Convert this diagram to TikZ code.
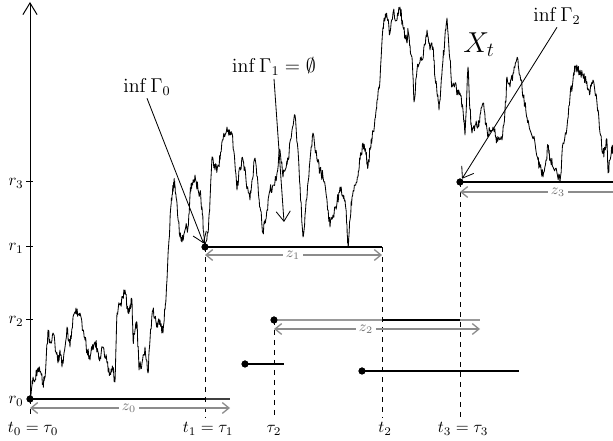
\documentclass[tikz,border=0pt]{standalone}
\usetikzlibrary{arrows.meta}
\tikzset{
  bmline/.style={line width=0.5pt, line join=round},
  lvl/.style={line width=0.9pt},
  lvlgray/.style={line width=0.9pt, draw=black!40},
  seg/.style={line width=0.8pt},
  zarrow/.style={line width=0.8pt, draw=black!45, {Straight Barb[length=4pt,width=6.5pt]}-{Straight Barb[length=4pt,width=6.5pt]}},
  zarrowl/.style={line width=0.8pt, draw=black!45, {Straight Barb[length=4pt,width=6.5pt]}-},
  zlab/.style={fill=white, inner sep=1.5pt, text=black!55, font=\small},
  vdash/.style={dashed, line width=0.6pt},
  callout/.style={line width=0.5pt, -{Straight Barb[length=6pt,width=8.5pt]}},
  dot/.style={circle, fill=black, inner sep=0pt, minimum size=4.2pt},
  tlab/.style={anchor=base, inner sep=0pt},
  rlab/.style={anchor=mid east, inner sep=1pt},
  tick/.style={line width=0.6pt},
  axis/.style={line width=0.6pt, -{Straight Barb[length=7pt,width=8.5pt]}},
  inflab/.style={font=\large, inner sep=1.5pt},
}
\begin{document}
\begin{tikzpicture}[x=0.6pt,y=-0.6pt]
\useasboundingbox (0,0) rectangle (613,441);

% ---- Brownian-like path ----
\def\bmlist{}
\pgfmathsetseed{4242}
\foreach \xb/\yb [remember=\xb as \xa (initially 30), remember=\yb as \ya (initially 399)] in {
32/385, 33/377, 35/380, 38/368, 40/372, 43/383, 45/378, 48/330, 50/343, 53/333, 56/352, 58/363, 60/350, 62/367, 64/353, 67/327, 70/347, 73/317, 76/308, 78/314, 80/313, 83/330, 85/340, 87/350, 90/360, 92/350, 95/342, 98/352, 100/357, 103/347, 107/363, 110/373, 113/370, 115/382, 117/313, 120/305, 123/298, 125/290, 128/313, 130/305, 132/300, 133/340, 135/330, 137/323, 139/370, 142/363, 145/347, 148/373, 150/340, 153/310, 155/318, 157/323, 160/320, 163/333, 165/310, 167/280, 169/240, 171/205, 172/195, 174/182, 175/185, 177/203, 180/237, 182/242, 185/230, 188/227, 190/195, 192/183, 195/175, 198/190, 200/192, 202/207, 204/237, 205/247,
208/233, 210/200, 212/157, 215/170, 218/165, 220/160, 223/140, 227/127, 230/135, 232/133, 235/165, 237/190, 240/167, 243/160, 246/180, 250/200, 252/180, 255/158, 258/185, 260/207, 263/233, 265/220, 267/210, 270/190, 273/185, 277/173, 280/150, 283/177, 286/168, 288/160, 292/130, 295/115, 298/150, 300/185, 303/237, 305/215, 307/197, 310/160, 313/133, 317/160, 320/170, 323/177, 327/200, 330/227, 333/215, 337/203, 340/187, 343/195, 345/200, 347/225, 348/247, 350/220, 352/197, 355/185, 358/177, 360/160, 363/143, 366/155, 368/167, 370/150, 372/140, 375/118, 377/100, 380/80, 383/27,
385/20, 387/17, 390/33, 393/13, 397/20, 400/7, 403/27, 405/35, 407/43, 408/30, 410/45, 412/57, 414/102, 417/70, 420/62, 422/60, 425/45, 427/30, 430/50, 433/47, 435/77, 437/93, 439/110, 441/85, 443/60, 445/35, 447/18, 450/60, 452/87, 455/83, 458/95, 460/93, 463/110, 465/135, 468/67, 470/110, 472/133, 475/125, 478/127, 480/115, 483/103, 486/125, 488/137, 490/130, 493/127, 496/138, 498/140, 502/140, 505/110, 507/77, 510/87, 513/73, 516/62, 518/60, 520/75, 522/87, 525/105, 527/117, 530/130, 535/143, 538/160, 540/167, 543/177, 546/160, 548/147, 550/158, 553/167, 557/173, 560/182, 563/143, 567/127, 570/97, 573/80, 575/67, 578/72, 580/70, 583/75, 585/80, 588/90, 590/93, 593/80, 597/103, 600/133, 603/153, 605/150, 607/140, 608/173, 610/160, 612/150, 613/147}{
  \foreach \k in {1,2,3,4}{
    \pgfmathsetmacro\xx{\xa+(\xb-\xa)*\k/5}
    \pgfmathsetmacro\yy{\ya+(\yb-\ya)*\k/5+5.5*rand}
    \pgfmathsetmacro\fl{\xx<175?399:(\xx<382?247:(\xx<460?999:182))}
    \pgfmathsetmacro\yy{min(\yy,\fl)}
    \xdef\bmlist{\bmlist -- (\xx,\yy)}
  }
  \xdef\bmlist{\bmlist -- (\xb,\yb)}
}
\edef\tmp{\noexpand\draw[bmline] (30,399) \bmlist;}\tmp

% ---- bullets ----
\node[dot] (b0) at (30,399) {};
\node[dot] (b1) at (205,247) {};
\node[dot] (b2) at (274,320) {};
\node[dot] (b3) at (460,182) {};
\node[dot] (c1) at (245,364) {};
\node[dot] (c2) at (362,371) {};

% ---- axis ----
\coordinate (top) at (30,2);
\draw[axis] (b0.center) -- (top);
\foreach \yy/\nm in {182/3, 247/1, 320/2}{
  \draw[tick] (26,\yy) -- (33,\yy);
  \node[rlab] (r\nm) at (25.5,\yy) {$r_\nm$};
}
\node[rlab] (r0) at (25.5,400) {$r_0$};

% ---- level lines ----
\coordinate (e0) at (230,399);
\coordinate (e0b) at (205,399);
\coordinate (e1) at (382,247);
\coordinate (e2) at (480,320);
\coordinate (e2a) at (382,320);
\coordinate (e2b) at (460,320);
\coordinate (e3) at (613,182);
\coordinate (f1) at (284,364);
\coordinate (f2) at (519,371);
\draw[line width=0.8pt, draw=black!75] (b0.center) -- (e0);
\draw[lvl] (b0.center) -- (e0b);
\draw[lvl] (b1.center) -- (e1);
\draw[lvlgray] (b2.center) -- (e2);
\draw[lvl] (e2a) -- (e2b);
\draw[lvl] (b3.center) -- (e3);
\draw[seg] (c1.center) -- (f1);
\draw[seg] (c2.center) -- (f2);

% ---- dashed verticals ----
\coordinate (d0) at (30,418);
\coordinate (d1) at (205,418);
\coordinate (d2) at (274,418);
\coordinate (d3) at (382,418);
\coordinate (d4) at (460,418);
\draw[vdash] (b0.center) -- (d0);
\draw[vdash] (b1.center) -- (d1);
\draw[vdash] (b2.center) -- (d2);
\draw[vdash] (e1) -- (d3);
\draw[vdash] (b3.center) -- (d4);

% ---- z arrows ----
\coordinate (z0a) at (30,408); \coordinate (z0b) at (230,408);
\coordinate (z1a) at (205,255); \coordinate (z1b) at (382,255);
\coordinate (z2a) at (274,329); \coordinate (z2b) at (480,329);
\coordinate (z3a) at (460,192); \coordinate (z3b) at (613,192);
\draw[zarrow] (z0a) -- (z0b);
\draw[zarrow] (z1a) -- (z1b);
\draw[zarrow] (z2a) -- (z2b);
\draw[zarrowl] (z3a) -- (z3b);
\node[zlab] (lz0) at (129,408) {$z_0$};
\node[zlab] (lz1) at (293,255) {$z_1$};
\node[zlab] (lz2) at (366,329) {$z_2$};
\node[zlab] (lz3) at (558,192) {$z_3$};

% redraw bullets on top
\foreach \b in {b0,b1,b2,b3,c1,c2}{ \fill (\b) circle[radius=2.1pt]; }

% ---- time labels ----
\node[tlab] (lt0) at (33,433) {$t_0=\tau_0$};
\node[tlab] (lt1) at (208,433) {$t_1=\tau_1$};
\node[tlab] (lt2) at (274,433) {$\tau_2$};
\node[tlab] (lt3) at (385,433) {$t_2$};
\node[tlab] (lt4) at (463,433) {$t_3=\tau_3$};

% ---- callouts ----
\node[inflab] (g0) at (147,87) {$\inf\Gamma_0$};
\node[inflab] (g1) at (274,67) {$\inf\Gamma_1=\emptyset$};
\node[inflab] (g2) at (557,16) {$\inf\Gamma_2$};
\coordinate (a1) at (284,222);
\draw[callout] (g0.south) -- (b1);
\draw[callout] (g1.south) -- (a1);
\draw[callout] (g2.south) -- (b3);

\node[font=\LARGE] (xt) at (479,45) {$X_t$};
\end{tikzpicture}
\end{document}
